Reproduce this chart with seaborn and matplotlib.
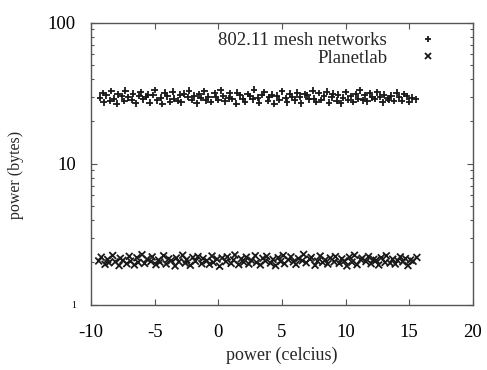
import matplotlib
matplotlib.use('Agg')
import matplotlib.pyplot as plt
from matplotlib.ticker import LogLocator, NullFormatter, FixedLocator
import pandas as pd
import seaborn as sns

# верхняя полоса (802.11 mesh networks), значения с картинки
mesh_x = [
    -9.3, -9.1, -9.0, -8.8, -8.5, -8.4, -8.2, -8.0, -7.9, -7.6,
    -7.4, -7.3, -7.1, -6.8, -6.7, -6.5, -6.2, -6.1, -5.9, -5.7,
    -5.5, -5.4, -5.1, -5.0, -4.8, -4.5, -4.4, -4.2, -4.0, -3.8,
    -3.6, -3.5, -3.2, -3.0, -2.9, -2.7, -2.4, -2.3, -2.1, -1.9,
    -1.7, -1.5, -1.4, -1.1, -1.0, -0.8, -0.6, -0.3, -0.2, 0.0,
    0.2, 0.4, 0.5, 0.8, 0.9, 1.1, 1.4, 1.5, 1.7, 1.9,
    2.1, 2.3, 2.5, 2.7, 2.8, 3.1, 3.2, 3.4, 3.6, 3.9,
    4.0, 4.2, 4.4, 4.6, 4.8, 5.0, 5.3, 5.4, 5.6, 5.8,
    6.0, 6.2, 6.4, 6.5, 6.8, 7.0, 7.1, 7.4, 7.5, 7.7,
    7.9, 8.1, 8.3, 8.5, 8.7, 8.9, 9.0, 9.3, 9.4, 9.6,
    9.8, 10.0, 10.2, 10.4, 10.6, 10.8, 11.0, 11.1, 11.4, 11.5,
    11.7, 11.9, 12.1, 12.3, 12.5, 12.7, 12.9, 13.0, 13.3, 13.4,
    13.6, 13.8, 14.0, 14.2, 14.4, 14.6, 14.8, 15.0, 15.2, 15.5,
]
mesh_y = [
    29.5, 31.8, 27.4, 30.6, 28.1, 32.9, 29.0, 26.8, 31.2, 30.1,
    27.9, 33.1, 29.7, 28.5, 31.5, 26.9, 30.4, 32.2, 28.8, 29.9,
    31.0, 27.2, 30.8, 33.4, 28.3, 29.4, 26.6, 31.9, 30.2, 27.7,
    32.5, 29.1, 28.0, 30.9, 27.3, 31.4, 29.8, 33.0, 28.6, 30.5,
    26.9, 31.1, 29.3, 32.7, 28.2, 30.0, 27.5, 31.7, 29.6, 28.4,
    33.2, 30.3, 27.8, 29.2, 31.6, 28.9, 26.7, 32.0, 30.7, 29.0,
    27.6, 31.3, 30.1, 28.7, 33.5, 29.5, 27.1, 30.8, 32.3, 28.1,
    29.8, 31.0, 26.8, 30.4, 28.5, 32.8, 29.3, 27.4, 31.5, 30.0,
    28.3, 32.1, 29.9, 27.0, 31.2, 30.6, 28.8, 33.0, 29.1, 27.7,
    31.8, 28.4, 30.2, 32.6, 27.2, 29.7, 31.4, 28.0, 30.9, 26.9,
    29.4, 32.4, 28.6, 30.3, 27.5, 31.1, 29.0, 33.3, 28.2, 30.7,
    27.8, 31.7, 29.6, 28.9, 32.2, 30.0, 27.3, 31.0, 29.2, 28.5,
    30.5, 27.9, 32.0, 29.8, 28.1, 31.3, 30.2, 27.6, 29.4, 28.7,
]

# нижняя полоса (Planetlab)
planet_x = [
    -9.4, -9.2, -8.9, -8.7, -8.6, -8.3, -8.1, -7.8, -7.7, -7.5,
    -7.2, -7.0, -6.9, -6.6, -6.4, -6.3, -6.0, -5.8, -5.6, -5.3,
    -5.2, -4.9, -4.7, -4.6, -4.3, -4.1, -3.9, -3.7, -3.4, -3.3,
    -3.1, -2.8, -2.6, -2.5, -2.2, -2.0, -1.8, -1.6, -1.3, -1.2,
    -0.9, -0.7, -0.5, -0.4, -0.1, 0.1, 0.3, 0.6, 0.7, 1.0,
    1.2, 1.3, 1.6, 1.8, 2.0, 2.2, 2.4, 2.6, 2.9, 3.0,
    3.3, 3.5, 3.7, 3.8, 4.1, 4.3, 4.5, 4.7, 4.9, 5.1,
    5.2, 5.5, 5.7, 5.9, 6.1, 6.3, 6.6, 6.7, 6.9, 7.2,
    7.3, 7.6, 7.8, 8.0, 8.2, 8.4, 8.6, 8.8, 9.1, 9.2,
    9.5, 9.7, 9.9, 10.1, 10.3, 10.5, 10.7, 10.9, 11.2, 11.3,
    11.6, 11.8, 12.0, 12.2, 12.4, 12.6, 12.8, 13.1, 13.2, 13.5,
    13.7, 13.9, 14.1, 14.3, 14.5, 14.7, 14.9, 15.1, 15.3, 15.6,
]
planet_y = [
    2.05, 2.18, 1.94, 2.10, 1.99, 2.24, 2.02, 1.90, 2.14, 2.07,
    1.96, 2.21, 2.04, 1.92, 2.16, 2.00, 2.27, 1.97, 2.11, 2.03,
    2.19, 1.93, 2.08, 2.01, 2.23, 1.95, 2.12, 2.06, 1.89, 2.15,
    2.02, 2.25, 1.98, 2.09, 1.91, 2.17, 2.04, 2.20, 1.96, 2.13,
    2.06, 1.94, 2.22, 2.00, 2.11, 1.88, 2.15, 2.03, 2.19, 1.97,
    2.08, 2.26, 1.93, 2.12, 2.01, 2.18, 1.95, 2.07, 2.23, 2.00,
    1.92, 2.14, 2.05, 2.21, 1.98, 2.10, 1.90, 2.16, 2.03, 2.24,
    1.96, 2.09, 2.19, 2.02, 1.94, 2.13, 2.06, 2.28, 1.99, 2.11,
    2.17, 1.91, 2.04, 2.22, 2.00, 2.08, 1.95, 2.15, 2.02, 2.20,
    1.97, 2.12, 2.05, 1.89, 2.18, 2.01, 2.25, 1.93, 2.09, 2.14,
    2.03, 2.20, 1.96, 2.10, 2.07, 1.92, 2.16, 2.00, 2.23, 1.98,
    2.11, 1.95, 2.06, 2.19, 2.02, 2.13, 1.90, 2.08, 2.04, 2.17,
]

series_names = ['802.11 mesh networks', 'Planetlab']
x_ticks = [-10, -5, 0, 5, 10, 15, 20]

df = pd.DataFrame({
    'x': mesh_x + planet_x,
    'y': mesh_y + planet_y,
    'series': [series_names[0]] * len(mesh_x) + [series_names[1]] * len(planet_x),
})

sns.set_style('ticks')
plt.rcParams['font.family'] = ['Liberation Serif', 'DejaVu Serif']
plt.rcParams['axes.unicode_minus'] = False

fig = plt.figure(figsize=(4.87, 3.70), dpi=100)
ax = fig.add_axes([0.187, 0.176, 0.784, 0.762])

sns.scatterplot(data=df, x='x', y='y', style='series', ax=ax,
                markers={series_names[0]: '+', series_names[1]: 'x'},
                color='#1a1a1a', s=24, linewidth=1.3, legend=True)

ax.set_yscale('log')
ax.set_ylim(1, 100)
ax.set_xlim(-10, 20)
ax.xaxis.set_major_locator(FixedLocator(x_ticks))
ax.yaxis.set_major_locator(FixedLocator([1, 10, 100]))
ax.yaxis.set_minor_locator(LogLocator(base=10, subs=range(2, 10)))
ax.yaxis.set_minor_formatter(NullFormatter())
ax.set_yticklabels(['1', '10', '100'])

ax.tick_params(which='both', direction='in', top=True, right=True,
               colors='#555555', labelcolor='black', width=0.8)
ax.tick_params(which='major', length=4, labelsize=13.5)
ax.tick_params(which='minor', length=2.5)
ax.tick_params(axis='x', which='major', pad=14)
ax.tick_params(axis='y', which='major', pad=11)
ax.yaxis.get_ticklabels()[0].set_fontsize(7)
for sp in ax.spines.values():
    sp.set_color('#555555')
    sp.set_linewidth(1.0)

ax.set_xlabel('power (celcius)', fontsize=13, labelpad=4)
ax.set_ylabel('power (bytes)', fontsize=11.5)
ax.yaxis.set_label_coords(-0.175, 0.46)

handles, labels = ax.get_legend_handles_labels()
ax.legend(handles, labels, loc='upper right', frameon=False, markerfirst=False,
          fontsize=13.5, handletextpad=1.2, labelspacing=0.0,
          borderaxespad=0.1, bbox_to_anchor=(0.957, 1.0))
for t in ax.get_legend().get_texts():
    t.set_ha('right')

plt.savefig('out.png', dpi=100)
